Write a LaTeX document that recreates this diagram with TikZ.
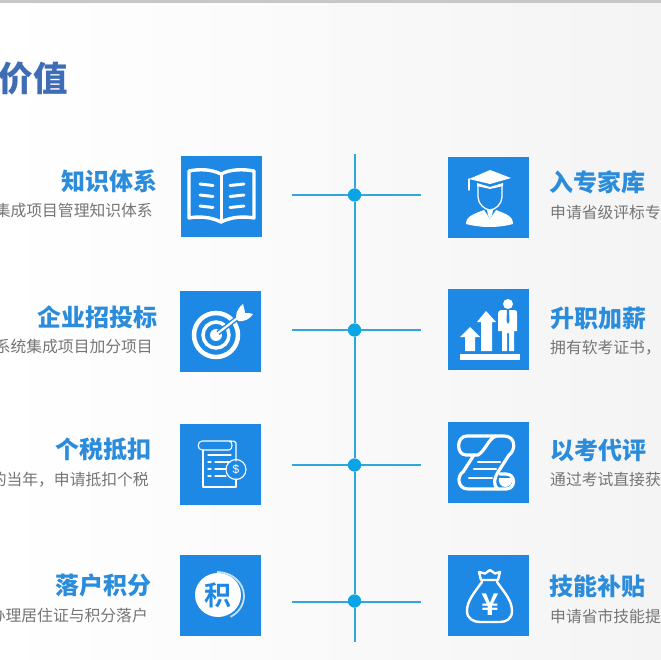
\documentclass[tikz,border=0pt]{standalone}
\usepackage{fontspec}
\newfontfamily\cjk{Noto Sans CJK SC}[BoldFont={Noto Sans CJK SC Bold}]
\newfontfamily\cjkblack{Noto Sans CJK SC Black}
\setmainfont{Liberation Sans}
\definecolor{boxblue}{HTML}{1E88E5}
\definecolor{headblue}{HTML}{2B8CDC}
\definecolor{titleblue}{HTML}{3F6DB5}
\definecolor{subgray}{HTML}{757575}
\definecolor{linecol}{HTML}{2EA8DC}
\definecolor{dotcol}{HTML}{0BA5E6}
\definecolor{bgright}{HTML}{F4F4F5}
\tikzset{
  x=1pt,y=-1pt,
  tile/.style={fill=boxblue,draw=none,minimum size=81pt,inner sep=0pt,outer sep=0pt,anchor=north west},
  headL/.style={anchor=east,inner sep=0pt,text=headblue,font=\cjkblack\fontsize{24}{24}\selectfont},
  headR/.style={anchor=west,inner sep=0pt,text=headblue,font=\cjkblack\fontsize{24}{24}\selectfont},
  subL/.style={anchor=east,inner sep=0pt,text=subgray,font=\cjk\fontsize{15.8}{16}\selectfont},
  subR/.style={anchor=west,inner sep=0pt,text=subgray,font=\cjk\fontsize{15.8}{16}\selectfont},
  dotn/.style={circle,fill=dotcol,draw=none,minimum size=13pt,inner sep=0pt},
  spine/.style={draw=linecol,line width=2pt},
  branch/.style={draw=linecol,line width=1.5pt},
  ico/.style={draw=white,line width=3pt,line join=round,line cap=round},
  icothin/.style={draw=white,line width=1.1pt,line join=round,line cap=round},
}
\begin{document}
\begin{tikzpicture}
\useasboundingbox (0,0) rectangle (661,660);
\clip (0,0) rectangle (661,660);
\shade[left color=white,right color=bgright] (0,0) rectangle (661,660);
\fill[black!22] (0,0) rectangle (661,3);

\node[anchor=east,inner sep=0pt,text=titleblue,font=\cjkblack\fontsize{34.5}{34}\selectfont] (title) at (68,78) {的价值};

% tiles
\node[tile] (b1) at (181,156) {};
\node[tile] (b2) at (180,291) {};
\node[tile] (b3) at (180,424) {};
\node[tile] (b4) at (180,555) {};
\node[tile] (r1) at (448,157) {};
\node[tile] (r2) at (448,289) {};
\node[tile] (r3) at (448,422) {};
\node[tile] (r4) at (448,555) {};

% texts left
\node[headL] (h1) at (157.5,181) {知识体系};
\node[subL] (s1) at (153,210.5) {集成项目管理知识体系};
\node[headL] (h2) at (157.5,317) {企业招投标};
\node[subL] (s2) at (153,346.5) {系统集成项目加分项目};
\node[headL] (h3) at (151.5,449) {个税抵扣};
\node[subL] (s3) at (149,479.5) {的当年，申请抵扣个税};
\node[headL] (h4) at (151.5,585) {落户积分};
\node[subL] (s4) at (148,615.5) {办理居住证与积分落户};
% texts right
\node[headR] (h5) at (549.5,182) {入专家库};
\node[subR] (s5) at (550,212) {申请省级评标专};
\node[headR] (h6) at (550.5,318) {升职加薪};
\node[subR] (s6) at (550,348) {拥有软考证书，};
\node[headR] (h7) at (550.5,450) {以考代评};
\node[subR] (s7) at (550,480) {通过考试直接获};
\node[headR] (h8) at (549.5,586) {技能补贴};
\node[subR] (s8) at (550,616) {申请省市技能提};

% timeline
\node[dotn] (d1) at (354.5,195) {};
\node[dotn] (d2) at (354.5,330) {};
\node[dotn] (d3) at (354.5,465) {};
\node[dotn] (d4) at (354.5,601) {};
\coordinate (top) at (354.5,154);
\coordinate (bot) at (354.5,642);
\draw[spine] (top) -- (d1);
\draw[spine] (d1) -- (d2);
\draw[spine] (d2) -- (d3);
\draw[spine] (d3) -- (d4);
\draw[spine] (d4) -- (bot);
\foreach \n/\yy in {1/195,2/330,3/465,4/602}{
  \coordinate (l\n) at (292,\yy);
  \coordinate (e\n) at (421,\yy);
  \draw[branch] (l\n) -- (d\n.center |- l\n) -- (e\n);
}
\node[dotn] at (d1) {};
\node[dotn] at (d2) {};
\node[dotn] at (d3) {};
\node[dotn] at (d4) {};

% book
\begin{scope}[shift={(b1.north west)}]
  \draw[ico,line width=3.4pt] (40,18) .. controls (30,13) and (18,13) .. (8,15) -- (8,62) .. controls (18,60) and (30,61) .. (40,66) .. controls (50,61) and (62,60) .. (73,62) -- (73,15) .. controls (62,13) and (50,13) .. (40,18);
  \draw[ico,line width=3pt] (40,18) -- (40,66);
  \foreach \yy in {28,39,50}{
    \draw[ico] (19,\yy) -- (32,\yy+1.5);
    \draw[ico] (49,\yy+1.5) -- (63,\yy);
  }
\end{scope}

% target
\begin{scope}[shift={(b2.north west)}]
  \draw[white,line width=4.5pt] (36,44) circle (22);
  \draw[white,line width=3.5pt] (36,44) circle (13);
  \fill[white] (36,44) circle (6);
  \draw[boxblue,line width=5pt] (38,42) -- (60,25);
  \draw[white,line width=2.2pt] (38,42) -- (60,25);
  \fill[white] (56,26) .. controls (56,20) and (60,15) .. (63,13) .. controls (64,17) and (65,20) .. (65,22) .. controls (68,22) and (71,22) .. (73,23) .. controls (70,28) and (64,31) .. (58,30) -- cycle;
\end{scope}

% tax doc
\begin{scope}[shift={(b3.north west)}]
  \draw[icothin] (23,26) -- (23,63) -- (56,63) -- (56,55);
  \draw[icothin] (56,37) -- (56,19) .. controls (56,17) and (53,17) .. (51,17) -- (22,17) .. controls (17,17) and (17,26) .. (22,26) -- (49,26) .. controls (53,26) and (53,17) .. (49,17);
  \draw[icothin] (28,31) -- (51,31);
  \draw[icothin] (28,38) -- (31,38) (35,38) -- (50,38);
  \draw[icothin] (28,45) -- (31,45) (35,45) -- (46,45);
  \draw[icothin] (28,52) -- (31,52) (35,52) -- (46,52);
  \node[circle,draw=white,line width=1.1pt,minimum size=20pt,inner sep=0pt,text=white,font=\fontsize{12}{12}\selectfont] (coin) at (56,45.5) {\$};
\end{scope}

% ji
\begin{scope}[shift={(b4.north west)}]
  \fill[white] (38,40) ellipse (23 and 22);
  \node[inner sep=0pt,text=boxblue,font=\cjk\bfseries\fontsize{27}{27}\selectfont] (ji) at (37.5,40) {积};
  \draw[white!75!boxblue,line width=1.8pt] (37,17) arc (-90:60:27 and 24);
\end{scope}

% scholar
\begin{scope}[shift={(r1.north west)}]
  \fill[white] (21,22) -- (42,13) -- (63,21) -- (42,27) -- cycle;
  \draw[icothin] (21,22) -- (21,33);
  \fill[white] (29,26) -- (42,30) -- (55,26) -- (55,29) -- (42,32) -- (29,29) -- cycle;
  \draw[icothin,line width=1.3pt] (30,29) -- (30,40) .. controls (30,47) and (37,53) .. (42,53) .. controls (47,53) and (54,47) .. (54,40) -- (54,29);
  \fill[white] (18,67) .. controls (18,59) and (26,57) .. (36,53) -- (42,62) -- (48,53) .. controls (58,57) and (65,59) .. (65,67) .. controls (50,71) and (33,71) .. (18,67) -- cycle;
  \fill[white] (39,53) -- (45,53) -- (44,58) -- (42,62) -- (40,58) -- cycle;
\end{scope}

% promotion
\begin{scope}[shift={(r2.north west)}]
  \fill[white] (12,65) rectangle (72,71);
  \fill[white] (22,38) -- (32,48) -- (27,48) -- (27,62) -- (17,62) -- (17,48) -- (12,48) -- cycle;
  \fill[white] (38,22) -- (48,33) -- (44,33) -- (44,62) -- (33,62) -- (33,33) -- (29,33) -- cycle;
  \fill[white] (60,15) circle (5);
  \fill[white] (53,21) -- (67,21) .. controls (69,21) and (69,23) .. (69,25) -- (69,42) -- (66,42) -- (66,62) -- (61,62) -- (61,44) -- (59,44) -- (59,62) -- (54,62) -- (54,42) -- (50,42) -- (50,25) .. controls (50,23) and (51,21) .. (53,21) -- cycle;
  \fill[boxblue] (59,21) -- (61,21) -- (61.5,32) -- (60,35) -- (58.5,32) -- cycle;
\end{scope}

% scroll
\begin{scope}[shift={(r3.north west)}]
  \draw[ico,line width=3.2pt] (18,33) .. controls (8,33) and (8,14) .. (19,14) -- (56,14) .. controls (68,14) and (68,28) .. (61,33) -- (50,50) .. controls (47,55) and (44,62) .. (50,67) -- (20,67) .. controls (9,67) and (9,53) .. (15,50) -- (26,33) -- (18,33);
  \draw[ico,line width=3.2pt] (48,14) .. controls (40,17) and (38,28) .. (30,33) -- (26,33);
  \draw[ico,line width=2.4pt] (30,40) -- (52,40) (26,47) -- (48,47) (21,56) -- (44,56);
  \draw[ico,line width=3.2pt] (50,67) -- (58,67) .. controls (68,67) and (68,52) .. (58,52) -- (52,52);
  \fill[white] (51,56) -- (64,56) .. controls (65,62) and (61,65) .. (57,65) .. controls (53,65) and (50,61) .. (51,56) -- cycle;
\end{scope}

% money bag
\begin{scope}[shift={(r4.north west)}]
  \draw[ico,line width=2.4pt] (33,25) -- (31,17) -- (37,18.5) -- (42,15) -- (47,18.5) -- (52,17) -- (50,25) -- cycle;
  \draw[ico,line width=2.4pt] (34,27) .. controls (26,38) and (19,46) .. (19,56) .. controls (19,64) and (26,67) .. (32,67) -- (52,67) .. controls (58,67) and (64,64) .. (64,56) .. controls (64,46) and (57,38) .. (49,27);
  \node[inner sep=0pt,text=white,font=\cjk\bfseries\fontsize{30}{30}\selectfont] (yen) at (42,50) {¥};
\end{scope}
\end{tikzpicture}
\end{document}
